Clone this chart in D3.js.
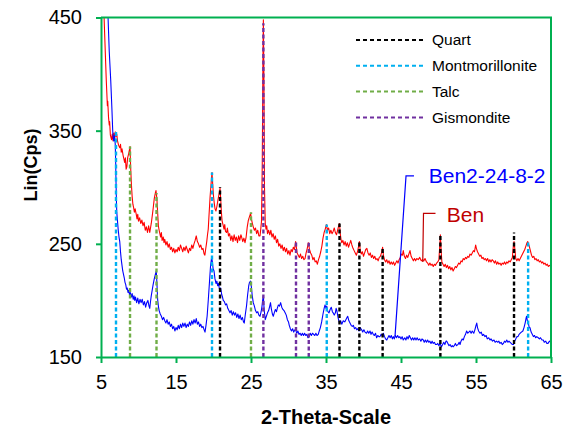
<!DOCTYPE html>
<html>
<head>
<meta charset="utf-8">
<script src="https://cdn.jsdelivr.net/npm/d3@7"></script>
<style>
  body { margin: 0; background: #fff; }
  svg { font-family: "Liberation Sans", Arial, sans-serif; }
</style>
</head>
<body>
<div id="chart"></div>
<script>
// X-ray diffraction patterns, [2-theta, cps]
let ben = [
  [5.05, 515], [5.4, 452], [5.7, 395], [5.85, 372], [5.9, 376], [6.0, 362], [6.1, 355], [6.15, 358], [6.25, 346],
  [6.4, 342], [6.5, 347], [6.6, 341], [6.7, 348], [6.8, 343], [6.9, 349], [7.0, 345], [7.1, 347], [7.2, 341],
  [7.35, 337], [7.5, 335], [7.6, 338], [7.7, 331], [7.8, 334], [7.95, 328], [8.05, 325], [8.15, 322], [8.25, 326],
  [8.35, 316], [8.45, 318], [8.55, 326], [8.7, 330], [8.87, 336], [8.95, 318], [9.05, 303], [9.15, 292], [9.25, 285],
  [9.35, 282], [9.45, 278], [9.55, 281], [9.7, 276], [9.8, 272], [9.9, 276], [10.0, 270], [10.15, 273], [10.3, 268],
  [10.45, 271], [10.6, 266], [10.75, 269], [10.9, 262], [11.05, 265], [11.2, 260], [11.35, 266], [11.5, 260],
  [11.6, 264], [11.7, 268], [11.8, 273], [11.95, 281], [12.1, 290], [12.25, 295], [12.33, 297], [12.45, 290],
  [12.55, 278], [12.65, 266], [12.75, 262], [12.85, 259], [12.95, 256], [13.05, 260], [13.15, 253], [13.3, 256],
  [13.4, 251], [13.5, 254], [13.65, 249], [13.8, 252], [13.95, 247], [14.1, 250], [14.25, 245], [14.4, 247],
  [14.55, 243], [14.7, 246], [14.85, 242], [15.0, 245], [15.15, 243], [15.3, 247], [15.45, 244], [15.6, 249],
  [15.75, 246], [15.9, 243], [16.05, 247], [16.2, 244], [16.35, 248], [16.5, 245], [16.65, 242], [16.8, 246],
  [16.95, 244], [17.1, 249], [17.25, 246], [17.4, 250], [17.55, 253], [17.7, 257], [17.85, 252], [18.0, 250],
  [18.15, 247], [18.3, 249], [18.45, 245], [18.6, 246], [18.75, 241], [18.85, 240], [18.95, 245], [19.1, 252],
  [19.2, 258], [19.3, 263], [19.4, 275], [19.55, 292], [19.7, 305], [19.8, 313], [19.9, 302], [20.0, 292],
  [20.1, 286], [20.2, 281], [20.33, 279], [20.45, 283], [20.6, 289], [20.77, 295], [20.87, 299], [20.95, 291],
  [21.05, 278], [21.15, 270], [21.3, 266], [21.4, 263], [21.5, 267], [21.6, 261], [21.75, 260], [21.85, 264],
  [22.0, 257], [22.15, 259], [22.3, 253], [22.45, 257], [22.6, 252], [22.75, 258], [22.9, 253], [23.05, 256],
  [23.2, 251], [23.35, 257], [23.5, 253], [23.65, 258], [23.75, 256], [23.9, 252], [24.05, 255], [24.2, 251],
  [24.35, 256], [24.5, 265], [24.65, 271], [24.8, 274], [24.95, 277], [25.05, 272], [25.15, 269], [25.3, 265],
  [25.45, 262], [25.6, 264], [25.75, 259], [25.9, 262], [26.05, 257], [26.2, 257], [26.3, 263], [26.4, 270],
  [26.5, 320], [26.6, 420], [26.65, 448], [26.72, 400], [26.8, 300], [26.9, 268], [27.0, 263], [27.1, 266],
  [27.2, 259], [27.35, 262], [27.5, 258], [27.65, 262], [27.8, 256], [27.95, 259], [28.1, 254], [28.25, 257],
  [28.4, 251], [28.55, 254], [28.7, 248], [28.85, 250], [29.0, 246], [29.15, 249], [29.3, 244], [29.45, 247],
  [29.6, 243], [29.75, 246], [29.9, 241], [30.05, 244], [30.2, 240], [30.35, 245], [30.5, 243], [30.65, 247],
  [30.8, 245], [30.95, 252], [31.05, 247], [31.15, 242], [31.3, 240], [31.45, 238], [31.6, 241], [31.75, 237],
  [31.9, 239], [32.05, 236], [32.2, 237], [32.35, 242], [32.5, 246], [32.65, 251], [32.8, 245], [32.95, 242],
  [33.1, 240], [33.25, 236], [33.4, 238], [33.55, 234], [33.7, 235], [33.85, 232], [34.0, 236], [34.15, 239],
  [34.3, 243], [34.45, 248], [34.6, 255], [34.75, 260], [34.9, 263], [35.05, 267], [35.2, 262], [35.35, 264],
  [35.5, 259], [35.65, 262], [35.8, 259], [35.95, 261], [36.1, 264], [36.25, 260], [36.4, 258], [36.55, 262],
  [36.7, 266], [36.8, 268], [36.9, 259], [37.0, 254], [37.1, 251], [37.25, 253], [37.4, 249], [37.55, 252],
  [37.7, 248], [37.85, 251], [38.0, 247], [38.15, 250], [38.3, 253], [38.45, 249], [38.6, 246], [38.75, 244],
  [38.9, 242], [39.05, 240], [39.2, 243], [39.35, 248], [39.45, 252], [39.55, 245], [39.7, 241], [39.85, 243],
  [40.0, 239], [40.15, 242], [40.3, 245], [40.45, 246], [40.6, 242], [40.75, 240], [40.9, 242], [41.05, 238],
  [41.2, 240], [41.35, 237], [41.5, 239], [41.65, 236], [41.8, 237], [41.95, 235], [42.1, 238], [42.25, 239],
  [42.4, 242], [42.55, 247], [42.65, 240], [42.8, 236], [42.95, 234], [43.1, 236], [43.25, 233], [43.4, 235],
  [43.55, 232], [43.7, 234], [43.85, 232], [44.0, 234], [44.15, 231], [44.3, 233], [44.45, 235], [44.6, 233],
  [44.75, 236], [44.9, 238], [45.05, 241], [45.2, 240], [45.3, 244], [45.45, 239], [45.6, 237], [45.75, 240],
  [45.9, 238], [46.05, 241], [46.2, 244], [46.35, 239], [46.5, 237], [46.65, 235], [46.8, 237], [46.95, 235],
  [47.1, 237], [47.3, 236], [47.5, 238], [47.7, 235], [47.9, 236], [48.05, 235], [48.2, 237], [48.4, 234],
  [48.55, 233], [48.7, 231], [48.85, 233], [49.0, 231], [49.15, 232], [49.3, 230], [49.45, 232], [49.6, 231],
  [49.75, 233], [49.9, 234], [50.05, 236], [50.15, 246], [50.25, 258], [50.35, 244], [50.45, 234], [50.6, 232],
  [50.75, 230], [50.9, 232], [51.05, 229], [51.2, 231], [51.35, 228], [51.5, 230], [51.65, 227], [51.8, 229],
  [51.95, 226], [52.1, 228], [52.25, 230], [52.4, 229], [52.55, 231], [52.7, 233], [52.85, 232], [53.0, 235],
  [53.15, 234], [53.3, 237], [53.45, 236], [53.6, 238], [53.75, 237], [53.9, 239], [54.05, 238], [54.2, 241],
  [54.35, 240], [54.5, 242], [54.65, 244], [54.8, 243], [54.95, 249], [55.05, 246], [55.2, 243], [55.35, 241],
  [55.5, 239], [55.65, 240], [55.8, 237], [55.95, 238], [56.1, 236], [56.25, 237], [56.4, 235], [56.55, 237],
  [56.7, 234], [56.85, 236], [57.0, 234], [57.15, 236], [57.3, 235], [57.45, 233], [57.6, 235], [57.75, 232],
  [57.9, 234], [58.05, 232], [58.2, 233], [58.35, 231], [58.5, 233], [58.65, 232], [58.8, 234], [58.95, 232],
  [59.1, 234], [59.25, 233], [59.4, 235], [59.55, 234], [59.7, 236], [59.85, 238], [59.95, 246], [60.07, 252],
  [60.2, 244], [60.3, 237], [60.45, 235], [60.6, 237], [60.75, 235], [60.9, 237], [61.05, 239], [61.2, 241],
  [61.35, 243], [61.5, 245], [61.65, 248], [61.8, 251], [61.9, 252], [62.0, 250], [62.1, 248], [62.25, 244],
  [62.4, 240], [62.55, 238], [62.7, 239], [62.85, 236], [63.0, 237], [63.15, 235], [63.3, 236], [63.45, 234],
  [63.6, 235], [63.75, 233], [63.9, 234], [64.05, 232], [64.2, 233], [64.35, 231], [64.5, 232], [64.65, 230],
  [64.8, 231], [65.0, 230]
];

let ben2 = [
  [5.5, 620], [5.93, 452], [6.1, 420], [6.3, 394], [6.45, 370], [6.55, 352], [6.6, 345], [6.7, 341], [6.8, 346],
  [6.9, 338], [6.95, 325], [7.0, 305], [7.05, 290], [7.1, 278], [7.2, 270], [7.3, 262], [7.4, 256], [7.5, 252],
  [7.6, 243], [7.7, 236], [7.8, 231], [7.9, 226], [8.0, 223], [8.1, 220], [8.2, 216], [8.3, 214], [8.4, 210],
  [8.5, 211], [8.6, 207], [8.7, 209], [8.8, 205], [8.9, 207], [9.05, 203], [9.15, 206], [9.3, 201], [9.4, 204],
  [9.5, 200], [9.6, 203], [9.75, 198], [9.9, 202], [10.05, 197], [10.2, 201], [10.35, 198], [10.5, 201],
  [10.65, 196], [10.8, 199], [10.95, 194], [11.1, 198], [11.25, 200], [11.4, 195], [11.5, 193], [11.6, 199],
  [11.7, 204], [11.8, 208], [11.95, 214], [12.1, 219], [12.25, 223], [12.37, 226], [12.45, 216], [12.55, 201],
  [12.65, 195], [12.75, 191], [12.9, 188], [13.05, 186], [13.2, 183], [13.35, 185], [13.5, 182], [13.65, 180],
  [13.8, 183], [13.95, 179], [14.1, 181], [14.25, 177], [14.4, 179], [14.55, 175], [14.7, 177], [14.85, 173],
  [15.0, 176], [15.15, 174], [15.3, 178], [15.45, 175], [15.6, 179], [15.75, 176], [15.9, 180], [16.05, 177],
  [16.2, 180], [16.35, 176], [16.5, 179], [16.65, 177], [16.8, 181], [16.95, 178], [17.1, 182], [17.25, 179],
  [17.4, 183], [17.55, 180], [17.7, 184], [17.85, 179], [18.0, 181], [18.15, 177], [18.3, 179], [18.45, 176],
  [18.6, 177], [18.75, 174], [18.87, 172], [19.0, 178], [19.15, 186], [19.3, 200], [19.45, 215], [19.6, 230],
  [19.75, 238], [19.85, 234], [19.95, 228], [20.07, 226], [20.2, 219], [20.33, 215], [20.45, 217], [20.55, 213],
  [20.65, 215], [20.8, 210], [20.95, 211], [21.1, 205], [21.2, 203], [21.3, 200], [21.45, 199], [21.6, 196],
  [21.75, 197], [21.9, 193], [22.05, 191], [22.2, 189], [22.35, 191], [22.5, 187], [22.65, 190], [22.8, 187],
  [22.95, 189], [23.1, 185], [23.25, 188], [23.4, 184], [23.55, 187], [23.7, 183], [23.85, 185], [24.0, 181],
  [24.1, 180], [24.25, 188], [24.4, 195], [24.55, 205], [24.7, 213], [24.8, 216], [24.95, 217], [25.05, 212],
  [25.15, 205], [25.3, 198], [25.45, 195], [25.6, 191], [25.75, 189], [25.9, 190], [26.05, 187], [26.2, 186],
  [26.35, 190], [26.47, 195], [26.55, 200], [26.65, 204], [26.75, 192], [26.9, 183], [27.05, 186], [27.2, 189],
  [27.35, 191], [27.5, 195], [27.6, 198], [27.7, 193], [27.85, 188], [27.97, 186], [28.1, 189], [28.25, 192],
  [28.4, 190], [28.5, 193], [28.65, 196], [28.8, 195], [28.95, 198], [29.1, 194], [29.25, 192], [29.4, 191],
  [29.55, 189], [29.7, 187], [29.85, 183], [30.0, 181], [30.1, 178], [30.25, 175], [30.4, 173], [30.55, 175],
  [30.7, 172], [30.85, 174], [30.95, 174], [31.1, 171], [31.25, 173], [31.4, 170], [31.55, 171], [31.7, 169],
  [31.85, 171], [32.0, 169], [32.15, 171], [32.3, 169], [32.45, 170], [32.6, 167], [32.75, 168], [32.9, 171],
  [33.05, 169], [33.2, 171], [33.35, 170], [33.5, 169], [33.65, 171], [33.8, 169], [33.97, 170], [34.1, 173],
  [34.25, 176], [34.42, 181], [34.6, 188], [34.75, 193], [34.87, 196], [35.0, 193], [35.1, 195], [35.25, 190],
  [35.4, 189], [35.55, 192], [35.7, 194], [35.85, 190], [35.95, 189], [36.1, 187], [36.25, 189], [36.35, 193],
  [36.45, 191], [36.6, 185], [36.8, 180], [36.95, 182], [37.1, 179], [37.3, 182], [37.5, 181], [37.65, 183],
  [37.8, 185], [37.9, 186], [38.05, 182], [38.2, 180], [38.35, 178], [38.5, 177], [38.65, 178], [38.8, 175],
  [38.95, 176], [39.1, 174], [39.25, 175], [39.4, 173], [39.55, 176], [39.75, 174], [39.9, 172], [40.05, 174],
  [40.2, 172], [40.4, 171], [40.55, 173], [40.7, 171], [40.87, 173], [41.0, 170], [41.15, 172], [41.3, 170],
  [41.45, 169], [41.6, 171], [41.75, 167], [41.9, 169], [42.05, 168], [42.2, 168], [42.35, 170], [42.5, 169],
  [42.65, 171], [42.8, 168], [42.95, 166], [43.1, 165], [43.25, 167], [43.4, 169], [43.55, 167], [43.7, 169],
  [43.85, 166], [43.97, 168], [44.1, 166], [44.25, 169], [44.4, 167], [44.55, 169], [44.7, 167], [44.85, 168],
  [45.0, 166], [45.15, 168], [45.3, 165], [45.5, 167], [45.65, 165], [45.8, 168], [45.95, 166], [46.1, 169],
  [46.25, 167], [46.4, 165], [46.55, 167], [46.7, 165], [46.85, 167], [47.0, 165], [47.15, 167], [47.3, 165],
  [47.5, 166], [47.65, 164], [47.8, 166], [47.97, 165], [48.1, 163], [48.25, 165], [48.4, 163], [48.55, 165],
  [48.7, 163], [48.85, 164], [49.0, 162], [49.15, 164], [49.3, 162], [49.45, 163], [49.6, 161], [49.75, 161],
  [49.9, 162], [50.05, 160], [50.2, 162], [50.4, 159], [50.55, 161], [50.7, 163], [50.85, 161], [51.0, 164],
  [51.1, 164], [51.25, 162], [51.4, 160], [51.55, 161], [51.7, 159], [51.85, 160], [51.95, 159], [52.1, 160],
  [52.25, 162], [52.4, 160], [52.6, 161], [52.75, 163], [52.87, 161], [53.0, 164], [53.15, 166], [53.3, 165],
  [53.45, 168], [53.6, 170], [53.75, 173], [53.9, 171], [54.05, 172], [54.2, 173], [54.35, 171], [54.5, 173],
  [54.7, 171], [54.85, 174], [55.0, 178], [55.1, 180], [55.2, 176], [55.35, 173], [55.53, 171], [55.7, 172],
  [55.85, 169], [56.0, 170], [56.2, 168], [56.35, 169], [56.5, 166], [56.7, 167], [56.87, 165], [57.0, 166],
  [57.2, 164], [57.4, 165], [57.55, 163], [57.75, 164], [57.9, 163], [58.05, 164], [58.2, 162], [58.35, 163],
  [58.5, 161], [58.65, 162], [58.8, 164], [58.95, 163], [59.1, 165], [59.25, 163], [59.4, 164], [59.55, 163],
  [59.7, 162], [59.85, 161], [60.0, 161], [60.15, 164], [60.3, 166], [60.45, 168], [60.6, 168], [60.75, 170],
  [60.9, 171], [61.05, 172], [61.25, 173], [61.4, 176], [61.55, 180], [61.7, 185], [61.75, 186], [61.85, 182],
  [62.0, 179], [62.1, 176], [62.2, 176], [62.35, 172], [62.5, 170], [62.65, 168], [62.8, 169], [62.95, 167],
  [63.1, 168], [63.3, 167], [63.45, 166], [63.6, 167], [63.8, 165], [63.97, 165], [64.1, 163], [64.3, 164],
  [64.45, 162], [64.6, 162], [64.8, 164], [65.0, 163]
];

// reference peak positions (2-theta) and how high each marker reaches
let phases = ["Quart", "Montmorillonite", "Talc", "Gismondite"];
let quartPos = [20.87, 36.8, 39.45, 42.55, 50.25, 60.07];
let quartTop = [300, 268, 252, 247, 258, 260];
let montPos = [7.0, 19.8, 35.1, 61.95];
let montTop = [349, 313, 267, 252];
let talcPos = [8.87, 12.4, 25.0];
let talcTop = [336, 295, 278];
let gisPos = [26.65, 31.0, 32.7];
let gisTop = [445, 252, 251];

let xTicks = [5, 15, 25, 35, 45, 55, 65];
let yTicks = [150, 250, 350, 450];

let W = 569, H = 428;
let margin = {top: 17.5, right: 18, bottom: 71, left: 101},
    width = W - margin.left - margin.right,
    height = H - margin.top - margin.bottom;

let green = "#00b050";
let phaseColors = ["#000000", "#00b0f0", "#70ad47", "#7030a0"];

let svg = d3.select("#chart")
    .append("svg")
    .attr("width", W)
    .attr("height", H);

let x = d3.scaleLinear().domain([5, 65]).range([0, width]);
let y = d3.scaleLinear().domain([150, 450]).range([height, 0]);

let g = svg.append("g")
    .attr("transform", "translate(" + margin.left + "," + margin.top + ")");

svg.append("defs").append("clipPath")
    .attr("id", "plot-clip")
    .append("rect")
    .attr("width", width)
    .attr("height", height);

let line = d3.line()
    .x(function(d) { return x(d[0]); })
    .y(function(d) { return y(d[1]); });

let curves = g.append("g").attr("clip-path", "url(#plot-clip)");

curves.append("path")
    .datum(ben)
    .attr("fill", "none")
    .attr("stroke", "#ff0000")
    .attr("stroke-width", 1.1)
    .attr("stroke-linejoin", "round")
    .attr("d", line);

curves.append("path")
    .datum(ben2)
    .attr("fill", "none")
    .attr("stroke", "#0000ff")
    .attr("stroke-width", 1.1)
    .attr("stroke-linejoin", "round")
    .attr("d", line);

// dashed phase markers
let markerSets = [
    {pos: quartPos, top: quartTop},
    {pos: montPos, top: montTop},
    {pos: talcPos, top: talcTop},
    {pos: gisPos, top: gisTop}
];
markerSets.forEach(function(set, i) {
    g.append("g").selectAll("line")
        .data(set.pos)
        .enter()
        .append("line")
        .attr("x1", function(d) { return x(d); })
        .attr("x2", function(d) { return x(d); })
        .attr("y1", y(150))
        .attr("y2", function(d, j) { return y(set.top[j]); })
        .attr("stroke", phaseColors[i])
        .attr("stroke-width", 2.4)
        .attr("stroke-dasharray", "4,2.5");
});

// frame
g.append("path")
    .attr("d", "M0,0H" + width + "V" + height)
    .attr("fill", "none")
    .attr("stroke", green)
    .attr("stroke-width", 2);

let xAxis = d3.axisBottom(x).tickValues(xTicks).tickSize(6).tickSizeOuter(0).tickPadding(12);
let yAxis = d3.axisLeft(y).tickValues(yTicks).tickSize(5).tickSizeOuter(0).tickPadding(14);

let gx = g.append("g")
    .attr("transform", "translate(0," + height + ")")
    .call(xAxis);
let gy = g.append("g").call(yAxis);

[gx, gy].forEach(function(ax) {
    ax.select(".domain").attr("stroke", green).attr("stroke-width", 2);
    ax.selectAll(".tick line").attr("stroke", green).attr("stroke-width", 2);
    ax.selectAll(".tick text")
        .attr("fill", "#000")
        .style("font-size", "20px")
        .style("font-family", "'Liberation Sans', Arial, sans-serif");
});

// axis titles
svg.append("text")
    .attr("x", margin.left + x(35))
    .attr("y", 424)
    .attr("text-anchor", "middle")
    .style("font-size", "20px")
    .style("font-weight", "bold")
    .text("2-Theta-Scale");

svg.append("text")
    .attr("transform", "translate(37,165) rotate(-90)")
    .attr("text-anchor", "middle")
    .style("font-size", "18px")
    .style("font-weight", "bold")
    .text("Lin(Cps)");

// legend
let legend = svg.append("g").attr("transform", "translate(356,40)");
phases.forEach(function(name, i) {
    let row = legend.append("g").attr("transform", "translate(0," + (i * 25.8) + ")");
    row.append("line")
        .attr("x1", 0).attr("x2", 68)
        .attr("stroke", phaseColors[i])
        .attr("stroke-width", 2)
        .attr("stroke-dasharray", "4,3");
    row.append("text")
        .attr("x", 76)
        .attr("dy", "0.35em")
        .style("font-size", "15.5px")
        .attr("fill", "#000")
        .text(name);
});

// series labels with leader lines
g.append("path")
    .attr("d", "M" + x(44.2) + "," + y(168) + "L" + x(45.67) + "," + y(310) + "H" + x(46.73))
    .attr("fill", "none")
    .attr("stroke", "#0000ff")
    .attr("stroke-width", 1.2);
g.append("text")
    .attr("x", x(48.7))
    .attr("y", y(310))
    .attr("dy", "0.36em")
    .attr("fill", "#0000ff")
    .style("font-size", "21px")
    .text("Ben2-24-8-2");

g.append("path")
    .attr("d", "M" + x(47.9) + "," + y(234) + "L" + x(48.0) + "," + y(277) + "H" + x(49.6))
    .attr("fill", "none")
    .attr("stroke", "#c00000")
    .attr("stroke-width", 1.2);
g.append("text")
    .attr("x", x(51.1))
    .attr("y", y(276))
    .attr("dy", "0.36em")
    .attr("fill", "#c00000")
    .style("font-size", "21px")
    .text("Ben");
</script>
</body>
</html>
